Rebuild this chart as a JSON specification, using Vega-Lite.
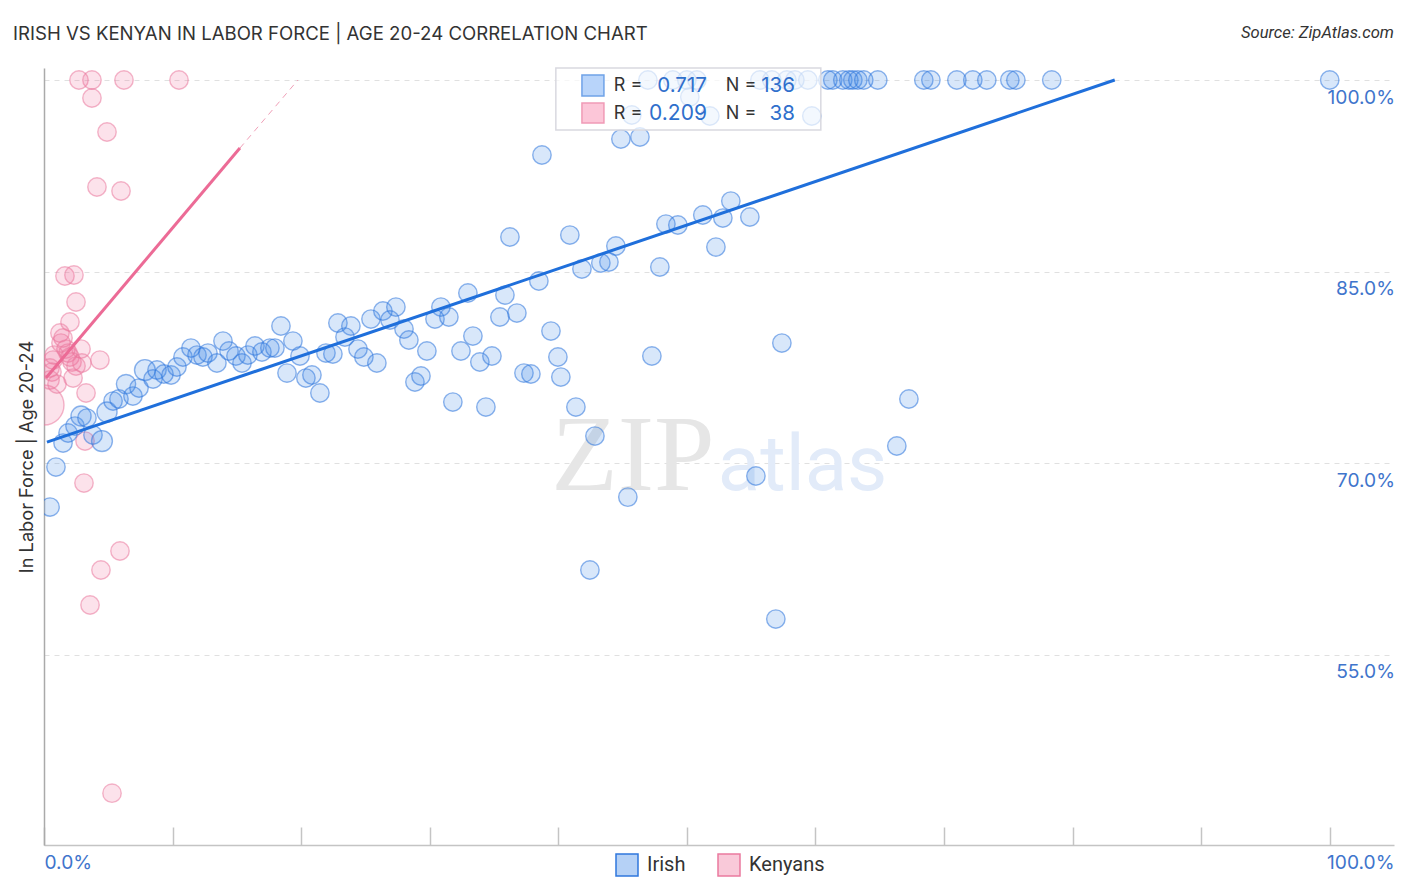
{
"$schema":"https://vega.github.io/schema/vega-lite/v6.json",
"autosize":"none","width":1350,"height":777,
"padding":{"left":44,"top":68,"right":12,"bottom":47},
"background":"white",
"config":{"view":{"stroke":null},"font":"Inter"},
"title":{"text":"IRISH VS KENYAN IN LABOR FORCE | AGE 20-24 CORRELATION CHART","anchor":"start","frame":"group","dx":-31,"offset":-19,"fontSize":18.6,"fontWeight":"normal","color":"#333333","font":"Inter"},
"datasets":{
"blank":[{}],
"points":[
{"group":"Kenyans","share":0,"labor":74.55,"weight":5},
{"group":"Kenyans","share":2.72,"labor":100,"weight":1},{"group":"Kenyans","share":3.73,"labor":100,"weight":1},{"group":"Kenyans","share":6.22,"labor":100,"weight":1},{"group":"Kenyans","share":10.5,"labor":100,"weight":1},
{"group":"Kenyans","share":3.73,"labor":98.59,"weight":1},{"group":"Kenyans","share":4.9,"labor":95.93,"weight":1},{"group":"Kenyans","share":4.12,"labor":91.62,"weight":1},{"group":"Kenyans","share":5.99,"labor":91.31,"weight":1},
{"group":"Kenyans","share":1.63,"labor":84.65,"weight":1},{"group":"Kenyans","share":2.33,"labor":84.73,"weight":1},{"group":"Kenyans","share":2.49,"labor":82.62,"weight":1},{"group":"Kenyans","share":2.02,"labor":81.05,"weight":1},
{"group":"Kenyans","share":1.24,"labor":80.19,"weight":1},{"group":"Kenyans","share":1.48,"labor":79.8,"weight":1},{"group":"Kenyans","share":1.32,"labor":79.4,"weight":1},{"group":"Kenyans","share":1.71,"labor":78.93,"weight":1},
{"group":"Kenyans","share":2.88,"labor":78.93,"weight":1},{"group":"Kenyans","share":1.87,"labor":78.62,"weight":1},{"group":"Kenyans","share":0.78,"labor":78.46,"weight":1},{"group":"Kenyans","share":0.7,"labor":78.07,"weight":1},
{"group":"Kenyans","share":2.02,"labor":78.31,"weight":1},{"group":"Kenyans","share":2.18,"labor":77.92,"weight":1},{"group":"Kenyans","share":2.95,"labor":77.84,"weight":1},{"group":"Kenyans","share":2.49,"labor":77.6,"weight":1},
{"group":"Kenyans","share":4.35,"labor":78.07,"weight":1},{"group":"Kenyans","share":0.47,"labor":77.45,"weight":1},{"group":"Kenyans","share":0.62,"labor":77.13,"weight":1},{"group":"Kenyans","share":2.26,"labor":76.66,"weight":1},
{"group":"Kenyans","share":0.47,"labor":76.51,"weight":1},{"group":"Kenyans","share":1.01,"labor":76.19,"weight":1},{"group":"Kenyans","share":3.27,"labor":75.49,"weight":1},{"group":"Kenyans","share":3.19,"labor":71.73,"weight":1},
{"group":"Kenyans","share":3.11,"labor":68.44,"weight":1},{"group":"Kenyans","share":5.91,"labor":63.12,"weight":1},{"group":"Kenyans","share":4.43,"labor":61.63,"weight":1},{"group":"Kenyans","share":3.58,"labor":58.89,"weight":1},{"group":"Kenyans","share":5.29,"labor":44.16,"weight":1},
{"group":"Irish","share":0.47,"labor":66.56,"weight":1},{"group":"Irish","share":0.93,"labor":69.69,"weight":1},{"group":"Irish","share":1.48,"labor":71.57,"weight":1},{"group":"Irish","share":1.87,"labor":72.36,"weight":1},
{"group":"Irish","share":2.41,"labor":72.9,"weight":1},{"group":"Irish","share":2.88,"labor":73.69,"weight":1.2},{"group":"Irish","share":3.34,"labor":73.53,"weight":1},{"group":"Irish","share":3.81,"labor":72.2,"weight":1},
{"group":"Irish","share":4.51,"labor":71.73,"weight":1.3},{"group":"Irish","share":4.9,"labor":74,"weight":1.2},{"group":"Irish","share":5.37,"labor":74.86,"weight":1},{"group":"Irish","share":5.83,"labor":75.02,"weight":1},
{"group":"Irish","share":6.38,"labor":76.19,"weight":1.1},{"group":"Irish","share":6.92,"labor":75.25,"weight":1},{"group":"Irish","share":7.39,"labor":75.88,"weight":1},{"group":"Irish","share":7.85,"labor":77.29,"weight":1.3},
{"group":"Irish","share":8.48,"labor":76.59,"weight":1},{"group":"Irish","share":8.79,"labor":77.29,"weight":1},{"group":"Irish","share":9.33,"labor":76.98,"weight":1},{"group":"Irish","share":9.88,"labor":76.9,"weight":1},
{"group":"Irish","share":10.34,"labor":77.53,"weight":1},{"group":"Irish","share":10.81,"labor":78.31,"weight":1},{"group":"Irish","share":11.43,"labor":79.01,"weight":1},{"group":"Irish","share":11.9,"labor":78.46,"weight":1},
{"group":"Irish","share":12.36,"labor":78.31,"weight":1},{"group":"Irish","share":12.75,"labor":78.62,"weight":1},{"group":"Irish","share":13.45,"labor":77.84,"weight":1},{"group":"Irish","share":13.92,"labor":79.56,"weight":1},
{"group":"Irish","share":14.39,"labor":78.78,"weight":1},{"group":"Irish","share":14.93,"labor":78.39,"weight":1},{"group":"Irish","share":15.4,"labor":77.84,"weight":1},{"group":"Irish","share":15.86,"labor":78.46,"weight":1},
{"group":"Irish","share":16.41,"labor":79.17,"weight":1},{"group":"Irish","share":16.95,"labor":78.7,"weight":1},{"group":"Irish","share":17.57,"labor":79.01,"weight":1},{"group":"Irish","share":17.96,"labor":79.01,"weight":1},
{"group":"Irish","share":18.43,"labor":80.74,"weight":1},{"group":"Irish","share":19.36,"labor":79.56,"weight":1},{"group":"Irish","share":19.91,"labor":78.39,"weight":1},{"group":"Irish","share":18.9,"labor":77.05,"weight":1},
{"group":"Irish","share":20.37,"labor":76.66,"weight":1},{"group":"Irish","share":20.84,"labor":76.9,"weight":1},{"group":"Irish","share":21.46,"labor":75.49,"weight":1},{"group":"Irish","share":21.93,"labor":78.62,"weight":1},
{"group":"Irish","share":22.47,"labor":78.54,"weight":1},{"group":"Irish","share":22.86,"labor":80.97,"weight":1},{"group":"Irish","share":23.87,"labor":80.74,"weight":1},{"group":"Irish","share":23.41,"labor":79.87,"weight":1},
{"group":"Irish","share":24.42,"labor":78.93,"weight":1},{"group":"Irish","share":24.88,"labor":78.31,"weight":1},{"group":"Irish","share":25.89,"labor":77.84,"weight":1},{"group":"Irish","share":25.43,"labor":81.28,"weight":1},
{"group":"Irish","share":26.36,"labor":81.91,"weight":1},{"group":"Irish","share":27.37,"labor":82.22,"weight":1},{"group":"Irish","share":26.91,"labor":81.21,"weight":1},{"group":"Irish","share":28,"labor":80.5,"weight":1},
{"group":"Irish","share":28.38,"labor":79.64,"weight":1},{"group":"Irish","share":29.78,"labor":78.78,"weight":1},{"group":"Irish","share":28.85,"labor":76.35,"weight":1},{"group":"Irish","share":29.32,"labor":76.82,"weight":1},
{"group":"Irish","share":31.8,"labor":74.78,"weight":1},{"group":"Irish","share":30.87,"labor":82.22,"weight":1},{"group":"Irish","share":30.41,"labor":81.28,"weight":1},{"group":"Irish","share":31.49,"labor":81.44,"weight":1},
{"group":"Irish","share":32.43,"labor":78.78,"weight":1},{"group":"Irish","share":32.97,"labor":83.32,"weight":1},{"group":"Irish","share":33.36,"labor":79.95,"weight":1},{"group":"Irish","share":33.9,"labor":77.92,"weight":1},
{"group":"Irish","share":34.37,"labor":74.39,"weight":1},{"group":"Irish","share":34.84,"labor":78.39,"weight":1},{"group":"Irish","share":35.46,"labor":81.44,"weight":1},{"group":"Irish","share":35.85,"labor":83.16,"weight":1},
{"group":"Irish","share":36.24,"labor":87.71,"weight":1},{"group":"Irish","share":36.78,"labor":81.75,"weight":1},{"group":"Irish","share":37.33,"labor":77.05,"weight":1},{"group":"Irish","share":37.87,"labor":76.98,"weight":1},
{"group":"Irish","share":38.49,"labor":84.26,"weight":1},{"group":"Irish","share":38.73,"labor":94.13,"weight":1},{"group":"Irish","share":39.43,"labor":80.34,"weight":1},{"group":"Irish","share":39.97,"labor":78.31,"weight":1},
{"group":"Irish","share":40.2,"labor":76.74,"weight":1},{"group":"Irish","share":40.9,"labor":87.86,"weight":1},{"group":"Irish","share":41.37,"labor":74.39,"weight":1},{"group":"Irish","share":41.84,"labor":85.2,"weight":1},
{"group":"Irish","share":42.46,"labor":61.63,"weight":1},{"group":"Irish","share":42.85,"labor":72.12,"weight":1},{"group":"Irish","share":43.31,"labor":85.67,"weight":1},{"group":"Irish","share":43.94,"labor":85.75,"weight":1},
{"group":"Irish","share":44.48,"labor":87,"weight":1},{"group":"Irish","share":44.87,"labor":95.38,"weight":1},{"group":"Irish","share":45.41,"labor":67.34,"weight":1},{"group":"Irish","share":45.72,"labor":97.26,"weight":1},
{"group":"Irish","share":46.35,"labor":95.54,"weight":1},{"group":"Irish","share":47.28,"labor":78.39,"weight":1},{"group":"Irish","share":47.9,"labor":85.36,"weight":1},{"group":"Irish","share":48.37,"labor":88.72,"weight":1},
{"group":"Irish","share":49.3,"labor":88.65,"weight":1},{"group":"Irish","share":50.23,"labor":98.67,"weight":1},{"group":"Irish","share":51.24,"labor":89.43,"weight":1},{"group":"Irish","share":51.79,"labor":97.18,"weight":1},
{"group":"Irish","share":52.26,"labor":86.92,"weight":1},{"group":"Irish","share":52.8,"labor":89.19,"weight":1},{"group":"Irish","share":53.42,"labor":90.52,"weight":1},{"group":"Irish","share":54.9,"labor":89.27,"weight":1},
{"group":"Irish","share":55.37,"labor":68.99,"weight":1},{"group":"Irish","share":56.92,"labor":57.79,"weight":1},{"group":"Irish","share":57.39,"labor":79.4,"weight":1},{"group":"Irish","share":59.72,"labor":97.18,"weight":1},
{"group":"Irish","share":66.33,"labor":71.34,"weight":1},{"group":"Irish","share":67.27,"labor":75.02,"weight":1},
{"group":"Irish","share":46.97,"labor":100,"weight":1},{"group":"Irish","share":48.91,"labor":100,"weight":1},{"group":"Irish","share":50,"labor":100,"weight":1},{"group":"Irish","share":50.78,"labor":100,"weight":1},
{"group":"Irish","share":55.68,"labor":100,"weight":1},{"group":"Irish","share":56.61,"labor":100,"weight":1},{"group":"Irish","share":57.78,"labor":100,"weight":1},{"group":"Irish","share":58.4,"labor":100,"weight":1},
{"group":"Irish","share":59.41,"labor":100,"weight":1},{"group":"Irish","share":60.97,"labor":100,"weight":1},{"group":"Irish","share":61.35,"labor":100,"weight":1},{"group":"Irish","share":62.13,"labor":100,"weight":1},
{"group":"Irish","share":62.6,"labor":100,"weight":1},{"group":"Irish","share":62.91,"labor":100,"weight":1},{"group":"Irish","share":63.3,"labor":100,"weight":1},{"group":"Irish","share":63.76,"labor":100,"weight":1},
{"group":"Irish","share":64.85,"labor":100,"weight":1},{"group":"Irish","share":68.43,"labor":100,"weight":1},{"group":"Irish","share":68.98,"labor":100,"weight":1},{"group":"Irish","share":71,"labor":100,"weight":1},
{"group":"Irish","share":72.24,"labor":100,"weight":1},{"group":"Irish","share":73.33,"labor":100,"weight":1},{"group":"Irish","share":75.12,"labor":100,"weight":1},{"group":"Irish","share":75.59,"labor":100,"weight":1},
{"group":"Irish","share":78.38,"labor":100,"weight":1},{"group":"Irish","share":100,"labor":100,"weight":1}
],
"irishFit":[{"share":0.23,"labor":71.65},{"share":83.28,"labor":100}],
"kenyanFit":[{"share":0.15,"labor":76.66},{"share":15.24,"labor":94.67}],
"kenyanExt":[{"share":15.24,"labor":94.67},{"share":19.75,"labor":100}]
},
"layer":[
{"data":{"name":"blank"},"mark":{"type":"text","text":"ZIP","font":"Liberation Serif","fontSize":109,"align":"left","baseline":"alphabetic","color":"#e6e6e6"},
 "encoding":{
  "x":{"datum":39.45,"scale":{"domain":[0,105],"nice":false,"zero":false},
   "axis":{"values":[0,10,20,30,40,50,60,70,80,90,100],"orient":"bottom","title":null,"labels":false,"grid":false,"ticks":true,"tickSize":-18,"tickColor":"#c4c4c4","tickWidth":1.5,"domain":true,"domainColor":"#c4c4c4","domainWidth":1.5}},
  "y":{"datum":67.89,"scale":{"domain":[40.1,100.94],"nice":false,"zero":false},
   "axis":{"values":[55,70,85,100],"orient":"left","title":"In Labor Force | Age 20-24","titleFontSize":18.2,"titleFontWeight":"normal","titleColor":"#333333","titlePadding":8,"labels":false,"ticks":false,"grid":true,"gridColor":"#e0e0e0","gridDash":[5,5],"gridWidth":1,"domain":true,"domainColor":"#aaaaaa","domainWidth":1.5}}}},
{"data":{"name":"blank"},"mark":{"type":"text","text":"atlas","font":"Roboto","fontSize":78,"align":"left","baseline":"alphabetic","color":"#e2ebf9"},
 "encoding":{
  "x":{"datum":52.4,"axis":{"values":[0,105],"orient":"bottom","title":null,"labelExpr":"datum.value == 0 ? '0.0%' : '100.0%'","labelFlush":true,"labelFontSize":19.2,"labelColor":"#3f75cc","labelPadding":8,"ticks":false,"domain":false,"grid":false}},
  "y":{"datum":67.89,"axis":{"values":[55,70,85,100],"orient":"right","title":null,"labelExpr":"format(datum.value, '.1f') + '%'","labelFontSize":19.2,"labelColor":"#3f75cc","labelAlign":"right","labelPadding":0.5,"labelOffset":17,"ticks":false,"tickSize":0,"domain":false,"grid":false}}}},
{"data":{"name":"points"},
 "mark":{"type":"point","shape":"circle","filled":false,"clip":true,"fillOpacity":0.2,"strokeOpacity":0.55,"strokeWidth":1.4},
 "encoding":{
  "x":{"field":"share","type":"quantitative","axis":null},
  "y":{"field":"labor","type":"quantitative","axis":null},
  "size":{"field":"weight","type":"quantitative","legend":null,"scale":{"domain":[1,5],"range":[340,1600],"zero":false}},
  "fill":{"field":"group","type":"nominal","sort":null,"scale":{"domain":["Irish","Kenyans"],"range":["#3d85e8","#f0709c"]},
   "legend":{"orient":"none","legendX":571,"legendY":785,"direction":"horizontal","title":null,"symbolType":"square","symbolSize":484,"labelFontSize":20,"labelColor":"#333333","labelFont":"Roboto","labelOffset":8,"columnPadding":29,"gridAlign":"none",
    "encode":{"symbols":{"enter":{"stroke":{"signal":"datum.value == 'Irish' ? '#7fadec' : '#f3a6c0'"},"strokeOpacity":{"value":1}},"update":{"opacity":{"value":1},"fillOpacity":{"value":0.38},"strokeWidth":{"value":1.5},"strokeOpacity":{"value":1},"stroke":{"signal":"datum.value == 'Irish' ? '#7fadec' : '#f3a6c0'"}}}}}},
  "stroke":{"field":"group","type":"nominal","sort":null,"scale":{"domain":["Irish","Kenyans"],"range":["#2f77dd","#ea7a9f"]},"legend":null}}},
{"data":{"name":"irishFit"},"mark":{"type":"line","color":"#1f6fdb","strokeWidth":3},
 "encoding":{"x":{"field":"share","type":"quantitative","axis":null},"y":{"field":"labor","type":"quantitative","axis":null}}},
{"data":{"name":"kenyanFit"},"mark":{"type":"line","color":"#ec6b96","strokeWidth":3},
 "encoding":{"x":{"field":"share","type":"quantitative","axis":null},"y":{"field":"labor","type":"quantitative","axis":null}}},
{"data":{"name":"kenyanExt"},"mark":{"type":"line","color":"#f0a0b8","strokeWidth":1,"strokeDash":[6,5]},
 "encoding":{"x":{"field":"share","type":"quantitative","axis":null},"y":{"field":"labor","type":"quantitative","axis":null}}},
{"data":{"name":"blank"},"mark":{"type":"rect","fill":"white","fillOpacity":0.7,"stroke":"#d9d9e0","strokeWidth":1.5},
 "encoding":{"x":{"datum":39.81,"axis":null},"x2":{"datum":60.42},"y":{"datum":100.94,"axis":null},"y2":{"datum":96.08}}},
{"data":{"name":"blank"},"mark":{"type":"rect","fill":"#b8d4fa","stroke":"#6fa2e8","strokeWidth":1.5},
 "encoding":{"x":{"datum":41.84,"axis":null},"x2":{"datum":43.55},"y":{"datum":100.39,"axis":null},"y2":{"datum":98.75}}},
{"data":{"name":"blank"},"mark":{"type":"rect","fill":"#fcc6d8","stroke":"#f09ab6","strokeWidth":1.5},
 "encoding":{"x":{"datum":41.84,"axis":null},"x2":{"datum":43.55},"y":{"datum":98.2,"axis":null},"y2":{"datum":96.63}}},
{"data":{"name":"blank"},"mark":{"type":"text","text":"R =","fontSize":18,"align":"left","color":"#333333"},"encoding":{"x":{"datum":44.32,"axis":null},"y":{"datum":99.53,"axis":null}}},
{"data":{"name":"blank"},"mark":{"type":"text","text":"R =","fontSize":18,"align":"left","color":"#333333"},"encoding":{"x":{"datum":44.32,"axis":null},"y":{"datum":97.34,"axis":null}}},
{"data":{"name":"blank"},"mark":{"type":"text","text":"N =","fontSize":18,"align":"left","color":"#333333"},"encoding":{"x":{"datum":53.03,"axis":null},"y":{"datum":99.53,"axis":null}}},
{"data":{"name":"blank"},"mark":{"type":"text","text":"N =","fontSize":18,"align":"left","color":"#333333"},"encoding":{"x":{"datum":53.03,"axis":null},"y":{"datum":97.34,"axis":null}}},
{"data":{"name":"blank"},"mark":{"type":"text","text":"0.717","fontSize":20.5,"align":"right","color":"#2f6fcc"},"encoding":{"x":{"datum":51.56,"axis":null},"y":{"datum":99.53,"axis":null}}},
{"data":{"name":"blank"},"mark":{"type":"text","text":"0.209","fontSize":21,"align":"right","color":"#2f6fcc"},"encoding":{"x":{"datum":51.56,"axis":null},"y":{"datum":97.34,"axis":null}}},
{"data":{"name":"blank"},"mark":{"type":"text","text":"136","fontSize":20.5,"align":"right","color":"#2f6fcc"},"encoding":{"x":{"datum":58.4,"axis":null},"y":{"datum":99.53,"axis":null}}},
{"data":{"name":"blank"},"mark":{"type":"text","text":"38","fontSize":20.5,"align":"right","color":"#2f6fcc"},"encoding":{"x":{"datum":58.4,"axis":null},"y":{"datum":97.34,"axis":null}}},
{"data":{"name":"blank"},"mark":{"type":"text","text":"Source: ZipAtlas.com","fontSize":16.6,"fontStyle":"italic","font":"Roboto","align":"right","color":"#333333"},"encoding":{"x":{"datum":105,"axis":null},"y":{"datum":103.68,"axis":null}}}
],
"resolve":{"axis":{"x":"independent","y":"independent"}}
}
